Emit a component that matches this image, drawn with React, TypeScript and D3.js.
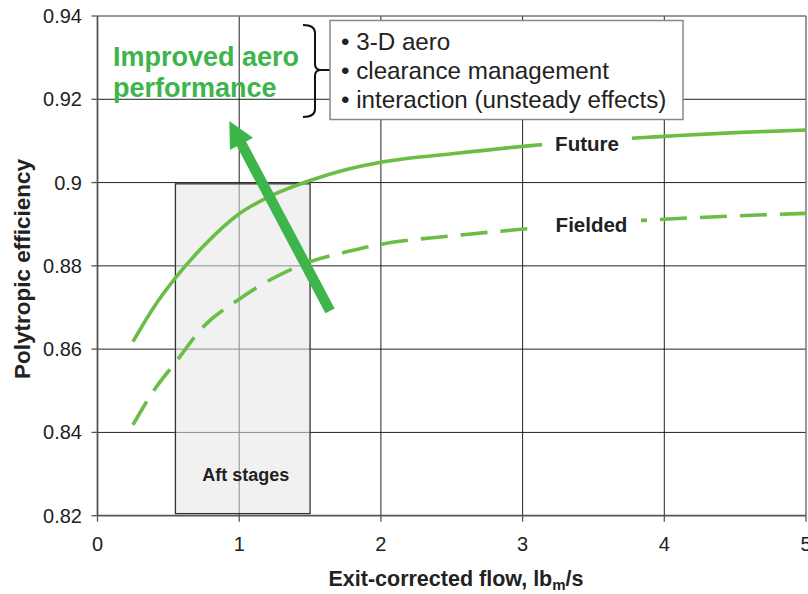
import React from "react";
import * as d3 from "d3";

const xTicks = [0, 1, 2, 3, 4, 5];
const yTicks = [0.82, 0.84, 0.86, 0.88, 0.9, 0.92, 0.94];
const yTickLabels = ["0.82", "0.84", "0.86", "0.88", "0.9", "0.92", "0.94"];

const futureX = [0.25, 0.4, 0.55, 0.75, 1, 1.25, 1.5, 1.75, 2, 2.5, 3, 3.5, 4, 4.5, 5];
const futureY = [0.8618, 0.8702, 0.8771, 0.8848, 0.8925, 0.8972, 0.9005, 0.9031, 0.9049, 0.9069, 0.9087, 0.9101, 0.9111, 0.912, 0.9126];
const fieldedX = [0.25, 0.4, 0.55, 0.75, 1, 1.25, 1.5, 1.75, 2, 2.5, 3, 3.5, 4, 4.5, 5];
const fieldedY = [0.8418, 0.8502, 0.8568, 0.8655, 0.872, 0.8772, 0.881, 0.8833, 0.8852, 0.8872, 0.8888, 0.8902, 0.8912, 0.892, 0.8926];

const aftStages = { x0: 0.55, x1: 1.5, y0: 0.8205, y1: 0.8997, label: "Aft stages" };
const arrowTail = [1.641, 0.8692];
const arrowTip = [0.93, 0.9148];
const bullets = ["3-D aero", "clearance management", "interaction (unsteady effects)"];
const headline = ["Improved aero", "performance"];

const W = 808;
const H = 594;
const x = d3.scaleLinear().domain([0, 5]).range([97.5, 806]);
const y = d3.scaleLinear().domain([0.82, 0.94]).range([515.7, 16]);

const FONT = "'Liberation Sans', Arial, Helvetica, sans-serif";
const CURVE = "#6abd45";
const ARROW = "#3db54a";

export default function App() {
  const line = d3
    .line<[number, number]>()
    .x((d) => x(d[0]))
    .y((d) => y(d[1]))
    .curve(d3.curveMonotoneX);
  const future = futureX.map((v, i) => [v, futureY[i]] as [number, number]);
  const fielded = fieldedX.map((v, i) => [v, fieldedY[i]] as [number, number]);

  const tx = x(arrowTail[0]), ty = y(arrowTail[1]);
  const hx = x(arrowTip[0]), hy = y(arrowTip[1]);
  const dx = hx - tx, dy = hy - ty;
  const len = Math.hypot(dx, dy);
  const ux = dx / len, uy = dy / len;
  const px = -uy, py = ux;
  const shaftW = 5.2, headW = 13, headL = 26;
  const bx = hx - ux * headL, by = hy - uy * headL;
  const arrowPts = [
    [tx + px * shaftW, ty + py * shaftW],
    [bx + px * shaftW, by + py * shaftW],
    [bx + px * headW, by + py * headW],
    [hx, hy],
    [bx - px * headW, by - py * headW],
    [bx - px * shaftW, by - py * shaftW],
    [tx - px * shaftW, ty - py * shaftW],
  ];

  return (
    <svg
      width={W}
      height={H}
      style={{ position: "absolute", left: 0, top: 0, background: "#fff" }}
      fontFamily={FONT}
    >
      <rect x={0} y={0} width={W} height={H} fill="#fff" />
      {yTicks.slice(1, -1).map((t) => (
        <line key={"gy" + t} x1={x(0)} x2={x(5)} y1={y(t)} y2={y(t)} stroke="#222" strokeWidth={1} />
      ))}
      {xTicks.slice(1, -1).map((t) => (
        <line key={"gx" + t} x1={x(t)} x2={x(t)} y1={y(0.94)} y2={y(0.82)} stroke="#222" strokeWidth={1} />
      ))}
      <line x1={x(0)} x2={x(5)} y1={y(0.94)} y2={y(0.94)} stroke="#777" strokeWidth={1.5} />
      <line x1={x(5)} x2={x(5)} y1={y(0.94)} y2={y(0.82)} stroke="#777" strokeWidth={1.5} />

      <rect
        x={x(aftStages.x0)}
        y={y(aftStages.y1)}
        width={x(aftStages.x1) - x(aftStages.x0)}
        height={y(aftStages.y0) - y(aftStages.y1)}
        fill="#e6e6e6"
        fillOpacity={0.55}
        stroke="#333"
        strokeWidth={1.3}
      />
      <text
        x={(x(aftStages.x0) + x(aftStages.x1)) / 2 + 3}
        y={481}
        textAnchor="middle"
        fontWeight="bold"
        fontSize={18}
        fill="#222"
      >
        {aftStages.label}
      </text>

      <line x1={x(0)} x2={x(0)} y1={y(0.94)} y2={y(0.82)} stroke="#555" strokeWidth={1.8} />
      <line x1={x(0)} x2={x(5)} y1={y(0.82)} y2={y(0.82)} stroke="#555" strokeWidth={1.8} />
      {yTicks.map((t, i) => (
        <g key={"yt" + t}>
          <line x1={x(0) - 6} x2={x(0)} y1={y(t)} y2={y(t)} stroke="#555" strokeWidth={1.3} />
          <text x={82} y={y(t) + 7} textAnchor="end" fontSize={20} fill="#222">
            {yTickLabels[i]}
          </text>
        </g>
      ))}
      {xTicks.map((t) => (
        <g key={"xt" + t}>
          <line x1={x(t)} x2={x(t)} y1={y(0.82)} y2={y(0.82) + 6} stroke="#555" strokeWidth={1.3} />
          <text x={x(t)} y={551} textAnchor="middle" fontSize={20} fill="#222">
            {t}
          </text>
        </g>
      ))}

      <path d={line(future) || ""} fill="none" stroke={CURVE} strokeWidth={3.6} />
      <path d={line(fielded) || ""} fill="none" stroke={CURVE} strokeWidth={3.6} strokeDasharray="27,13" />

      <rect x={542} y={128} width={90} height={30} fill="#fff" />
      <text x={587} y={151} textAnchor="middle" fontWeight="bold" fontSize={20.5} fill="#222">
        Future
      </text>
      <rect x={533} y={208} width={108} height={30} fill="#fff" />
      <text x={591.5} y={232} textAnchor="middle" fontWeight="bold" fontSize={20.5} fill="#222">
        Fielded
      </text>

      <polygon points={arrowPts.map((p) => p.join(",")).join(" ")} fill={ARROW} />

      {headline.map((s, i) => (
        <text key={s} x={113} y={66 + i * 31} fontWeight="bold" fontSize={27} fill={ARROW}>
          {s}
        </text>
      ))}

      <path
        d="M303,25 Q315,25 315,33 L315,64 Q315,70 321,70 L330,70 M321,70 Q315,70 315,76 L315,109 Q315,117 303,117"
        fill="none"
        stroke="#111"
        strokeWidth={2}
      />

      <rect x={330} y={20.5} width={353} height={99} fill="#fff" stroke="#888" strokeWidth={1.5} />
      {bullets.map((b, i) => (
        <text key={b} x={341} y={50 + i * 29} fontSize={24.2} fill="#222">
          {"\u2022 " + b}
        </text>
      ))}

      <text x={456} y={586} textAnchor="middle" fontWeight="bold" fontSize={21.5} fill="#222">
        Exit-corrected flow, lb
        <tspan fontSize={15} dy={4}>m</tspan>
        <tspan dy={-4}>/s</tspan>
      </text>
      <text
        transform="translate(30,269) rotate(-90)"
        textAnchor="middle"
        fontWeight="bold"
        fontSize={22.5}
        fill="#222"
      >
        Polytropic efficiency
      </text>
    </svg>
  );
}
